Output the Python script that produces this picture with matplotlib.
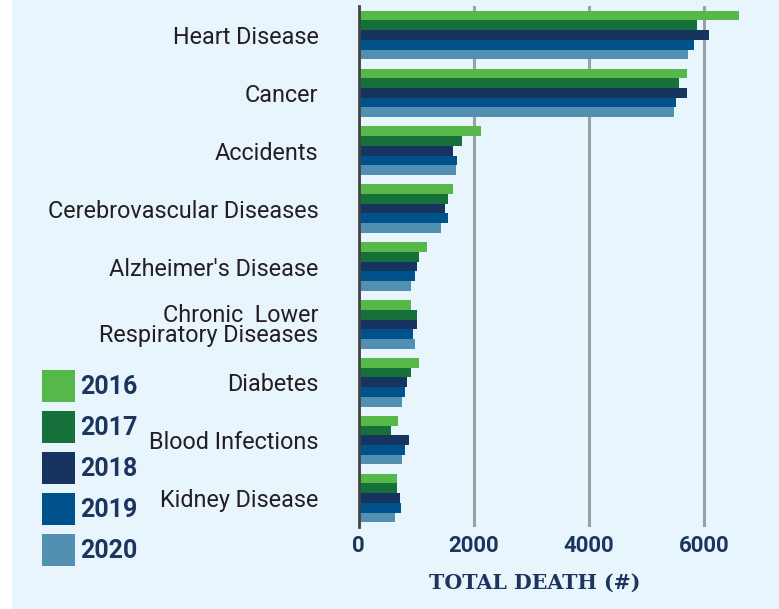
import numpy as np
import matplotlib.pyplot as plt
from matplotlib.patches import Patch, Rectangle

# causes of death, top to bottom
causes = ['Heart Disease', 'Cancer', 'Accidents', 'Cerebrovascular Diseases',
          "Alzheimer's Disease", 'Chronic  Lower\nRespiratory Diseases',
          'Diabetes', 'Blood Infections', 'Kidney Disease']
years = ['2016', '2017', '2018', '2019', '2020']

# total deaths per year
d2016 = [6610, 5710, 2130, 1640, 1190, 910, 1050, 680, 665]
d2017 = [5890, 5570, 1800, 1550, 1050, 1015, 910, 560, 665]
d2018 = [6090, 5710, 1640, 1500, 1015, 1015, 840, 875, 720]
d2019 = [5830, 5520, 1710, 1550, 980, 945, 805, 805, 735]
d2020 = [5730, 5480, 1690, 1430, 910, 980, 750, 750, 630]

xticks = [0, 2000, 4000, 6000]
colors = ['#55b848', '#16703a', '#17335f', '#00538a', '#528fb1']
navy = '#1b355e'

series = [d2016, d2017, d2018, d2019, d2020]

fig = plt.figure(figsize=(7.79, 6.09), dpi=100)
fig.patch.set_facecolor('white')
fig.patches.append(Rectangle((12 / 779, 0), 1, 1, transform=fig.transFigure,
                             facecolor='#e8f5fd', edgecolor='none', zorder=-10))

ax = fig.add_axes([358.7 / 779, 1 - 527 / 609, (779 - 358.7) / 779, 521 / 609])
ax.set_facecolor('none')

y = np.arange(len(causes))
h = 0.168
for i, vals in enumerate(series):
    ax.barh(y + (i - 2) * h, vals, height=h, color=colors[i], zorder=3)

ax.set_ylim(len(causes) - 0.5, -0.5)
ax.set_xlim(0, (779 - 358.7) * 17.39)
ax.set_xticks(xticks)
ax.set_xticklabels([str(t) for t in xticks], fontfamily='Roboto',
                   fontweight='bold', fontsize=16, color=navy)
ax.set_yticks(y)
ax.set_yticklabels(causes, fontfamily='Roboto', fontsize=16.8, color='#231f20',
                   linespacing=0.82)
ax.tick_params(axis='x', length=0, pad=6)
ax.tick_params(axis='y', length=0, pad=29)

ax.grid(axis='x', color='#9aa0a3', linewidth=2.2, zorder=1)
for s in ['top', 'right', 'bottom']:
    ax.spines[s].set_visible(False)
ax.spines['left'].set_color('#444444')
ax.spines['left'].set_linewidth(2)
ax.spines['left'].set_zorder(4)

fig.text(535 / 779, 1 - 583 / 609, 'TOTAL DEATH (#)', fontfamily='DejaVu Serif',
         fontweight='bold', fontsize=14.8, color=navy, ha='center', va='center')

handles = [Patch(facecolor=c, edgecolor='none') for c in colors]
fig.legend(handles, years, loc='upper left', bbox_to_anchor=(42 / 779, 1 - 370 / 609),
           frameon=False, borderpad=0, borderaxespad=0, handlelength=1.32,
           handleheight=1.62, labelspacing=0.34, handletextpad=0.22,
           prop={'family': 'Roboto', 'weight': 'bold', 'size': 18}, labelcolor=navy)

fig.savefig('out.png', dpi=100)
